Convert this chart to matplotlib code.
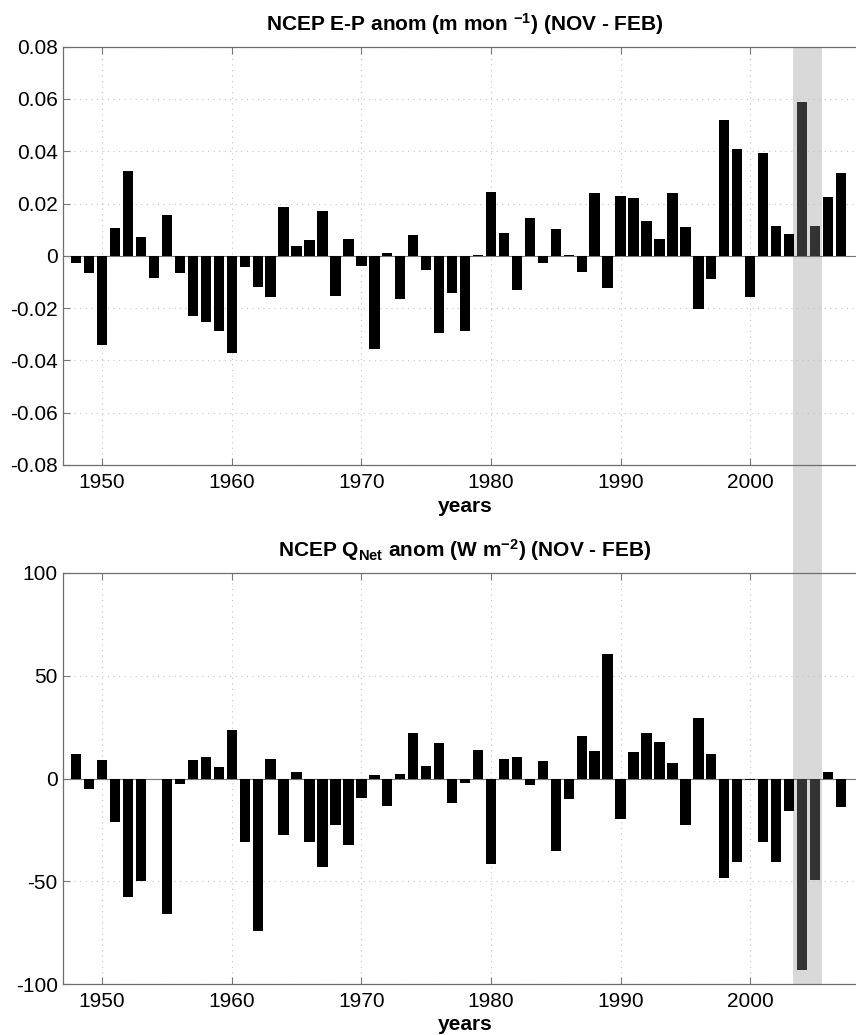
import matplotlib
matplotlib.use("Agg")
import matplotlib.pyplot as plt
import numpy as np
from matplotlib.patches import Rectangle

plt.rcParams['font.family'] = ['Liberation Sans', 'DejaVu Sans']
plt.rcParams['mathtext.fontset'] = 'custom'
plt.rcParams['mathtext.rm'] = 'Liberation Sans:bold'
plt.rcParams['mathtext.bf'] = 'Liberation Sans:bold'
plt.rcParams['mathtext.default'] = 'bf'

years = np.arange(1948, 2008)

ep_anom = [
    -0.0027, -0.0065, -0.0342, 0.0107, 0.0324, 0.0073, -0.0084, 0.0158, -0.0065, -0.0231,
    -0.0254, -0.0289, -0.0372, -0.0043, -0.0119, -0.0157, 0.0185, 0.0037, 0.0060, 0.0171,
    -0.0154, 0.0064, -0.0038, -0.0358, 0.0010, -0.0164, 0.0079, -0.0056, -0.0296, -0.0141,
    -0.0288, 0.0003, 0.0245, 0.0089, -0.0130, 0.0143, -0.0029, 0.0102, 0.0003, -0.0062,
    0.0241, -0.0122, 0.0229, 0.0221, 0.0135, 0.0065, 0.0241, 0.0111, -0.0205, -0.0089,
    0.0518, 0.0408, -0.0156, 0.0393, 0.0116, 0.0085, 0.0588, 0.0116, 0.0226, 0.0315,
]

qnet_anom = [
    11.8, -5.0, 9.2, -21.1, -57.6, -49.8, -0.3, -66.0, -2.9, 9.2,
    10.7, 5.5, 23.8, -30.7, -74.3, 9.7, -27.4, 3.2, -31.0, -43.1,
    -22.7, -32.6, -9.7, 1.5, -13.6, 2.3, 22.2, 6.0, 17.2, -11.8,
    -2.1, 13.8, -41.7, 9.6, 10.4, -3.4, 8.4, -35.4, -9.9, 20.9,
    13.5, 60.5, -19.8, 12.7, 22.2, 18.0, 7.3, -22.5, 29.2, 11.8,
    -48.5, -40.7, -0.5, -31.1, -40.6, -15.6, -93.3, -49.6, 3.1, -13.9,
]

highlight_years = [2004, 2005]
shade_span = (2003.3, 2005.55)

xticks = [1950, 1960, 1970, 1980, 1990, 2000]
ep_yticks = [-0.08, -0.06, -0.04, -0.02, 0, 0.02, 0.04, 0.06, 0.08]
ep_ylabels = ['-0.08', '-0.06', '-0.04', '-0.02', '0', '0.02', '0.04', '0.06', '0.08']
qnet_yticks = [-100, -50, 0, 50, 100]

W, H = 856, 1035
fig = plt.figure(figsize=(W / 100, H / 100), dpi=100)
fig.patch.set_facecolor('white')

ax1 = fig.add_axes([63.3 / W, 1 - 465 / H, (866.8 - 63.3) / W, (465 - 46.7) / H])
ax2 = fig.add_axes([63.3 / W, 1 - 984 / H, (866.8 - 63.3) / W, (984 - 573) / H])


def style_axis(ax, values, ylim, yticks, ylabels, title, title_pad):
    colors = ['#333333' if y in highlight_years else 'black' for y in years]
    ax.bar(years, values, width=0.8, color=colors, zorder=3)
    ax.axhline(0, color='#777777', lw=0.8, zorder=2)
    ax.set_xlim(1947, 2009)
    ax.set_ylim(*ylim)
    ax.set_xticks(xticks)
    ax.set_yticks(yticks)
    ax.set_yticklabels(ylabels)
    ax.set_facecolor('none')
    ax.grid(True, linestyle=(0, (1, 4)), color='#c4c4c4', lw=0.8, zorder=1)
    ax.tick_params(direction='in', top=True, right=False, length=5,
                   width=0.8, color='#777777', labelsize=15)
    ax.tick_params(axis='y', pad=4)
    ax.tick_params(axis='x', pad=6)
    for s in ax.spines.values():
        s.set_color('#6e6e6e')
        s.set_linewidth(0.9)
    ax.spines['right'].set_visible(False)
    ax.set_xlabel('years', fontsize=15, fontweight='bold', labelpad=3)
    ax.set_title(title, fontsize=15, fontweight='bold', pad=title_pad)


style_axis(ax1, ep_anom, (-0.08, 0.08), ep_yticks, ep_ylabels,
           r'NCEP E-P anom (m mon $^{-1}$) (NOV - FEB)', 11.5)
style_axis(ax2, qnet_anom, (-100, 100), qnet_yticks, [str(v) for v in qnet_yticks],
           r'NCEP Q$_{Net}$ anom (W m$^{-2}$) (NOV - FEB)', 11.5)

# shaded band across both panels
fig.canvas.draw()
x0 = ax1.transData.transform((shade_span[0], 0))[0] / W
x1 = ax1.transData.transform((shade_span[1], 0))[0] / W
rect = Rectangle((x0, 1 - 984 / H), x1 - x0, (984 - 46.7) / H,
                 transform=fig.transFigure, facecolor='#d9d9d9',
                 edgecolor='none', zorder=-1)
fig.add_artist(rect)

plt.savefig('out.png', dpi=100)
